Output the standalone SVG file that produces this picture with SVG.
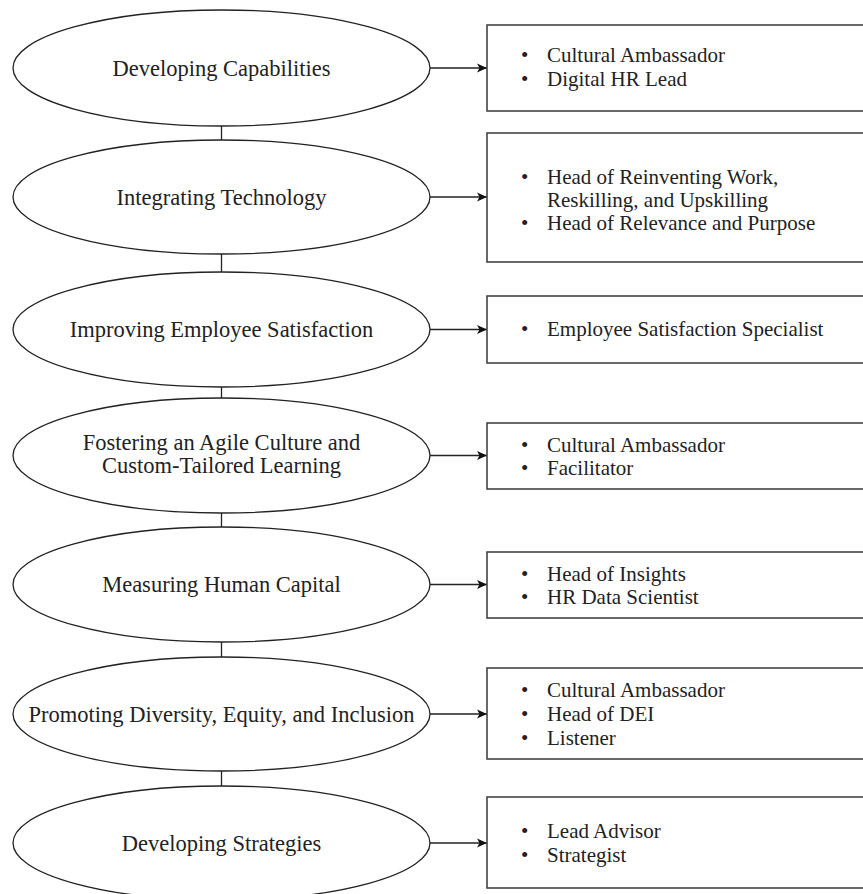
<svg xmlns="http://www.w3.org/2000/svg" width="863" height="894" viewBox="0 0 863 894">
<style>
.ell{fill:#fff;stroke:#222;stroke-width:1.3}
.box{fill:#fff;stroke:#444;stroke-width:1.6}
.et{font-family:"Liberation Serif","Times New Roman",serif;font-size:22.5px;fill:#222;text-anchor:middle}
.bt{font-family:"Liberation Serif","Times New Roman",serif;font-size:21px;fill:#222}
.ln{stroke:#222;stroke-width:1.3;fill:none}
</style>
<defs>
<marker id="ah" markerWidth="11" markerHeight="11" refX="10" refY="5.5" orient="auto" markerUnits="userSpaceOnUse">
<path d="M0,1 L10,5.5 L0,10 L2.5,5.5 Z" fill="#111"/>
</marker>
</defs>
<g id="connectors">
<line class="ln" x1="221.5" y1="126" x2="221.5" y2="140"/>
<line class="ln" x1="221.5" y1="254" x2="221.5" y2="272"/>
<line class="ln" x1="221.5" y1="387" x2="221.5" y2="398"/>
<line class="ln" x1="221.5" y1="513" x2="221.5" y2="527"/>
<line class="ln" x1="221.5" y1="642" x2="221.5" y2="657"/>
<line class="ln" x1="221.5" y1="771" x2="221.5" y2="786"/>
<line class="ln" x1="430" y1="68" x2="487" y2="68" marker-end="url(#ah)"/>
<line class="ln" x1="430" y1="197" x2="487" y2="197" marker-end="url(#ah)"/>
<line class="ln" x1="430" y1="329.5" x2="487" y2="329.5" marker-end="url(#ah)"/>
<line class="ln" x1="430" y1="455.5" x2="487" y2="455.5" marker-end="url(#ah)"/>
<line class="ln" x1="430" y1="584.5" x2="487" y2="584.5" marker-end="url(#ah)"/>
<line class="ln" x1="430" y1="714" x2="487" y2="714" marker-end="url(#ah)"/>
<line class="ln" x1="430" y1="843" x2="487" y2="843" marker-end="url(#ah)"/>
</g>
<g id="n1"><ellipse class="ell" cx="221.5" cy="68" rx="208.5" ry="58"/><text class="et" x="221.5" y="75.5">Developing Capabilities</text></g>
<g id="n2"><ellipse class="ell" cx="221.5" cy="197" rx="208.5" ry="57"/><text class="et" x="221.5" y="204.5">Integrating Technology</text></g>
<g id="n3"><ellipse class="ell" cx="221.5" cy="329.5" rx="208.5" ry="57.5"/><text class="et" x="221.5" y="337">Improving Employee Satisfaction</text></g>
<g id="n4"><ellipse class="ell" cx="221.5" cy="455.5" rx="208.5" ry="57.5"/><text class="et" x="221.5" y="449.5">Fostering an Agile Culture and</text><text class="et" x="221.5" y="472.5">Custom-Tailored Learning</text></g>
<g id="n5"><ellipse class="ell" cx="221.5" cy="584.5" rx="208.5" ry="57.5"/><text class="et" x="221.5" y="592">Measuring Human Capital</text></g>
<g id="n6"><ellipse class="ell" cx="221.5" cy="714" rx="208.5" ry="57"/><text class="et" x="221.5" y="721.5">Promoting Diversity, Equity, and Inclusion</text></g>
<g id="n7"><ellipse class="ell" cx="221.5" cy="843" rx="208.5" ry="57"/><text class="et" x="221.5" y="850.5">Developing Strategies</text></g>
<g id="b1"><rect class="box" x="487" y="25" width="390" height="86"/>
<text class="bt" x="521" y="62">•</text><text class="bt" x="547" y="62">Cultural Ambassador</text>
<text class="bt" x="521" y="86">•</text><text class="bt" x="547" y="86">Digital HR Lead</text></g>
<g id="b2"><rect class="box" x="487" y="133" width="390" height="129"/>
<text class="bt" x="521" y="184">•</text><text class="bt" x="547" y="184">Head of Reinventing Work,</text>
<text class="bt" x="547" y="207">Reskilling, and Upskilling</text>
<text class="bt" x="521" y="230">•</text><text class="bt" x="547" y="230">Head of Relevance and Purpose</text></g>
<g id="b3"><rect class="box" x="487" y="296" width="390" height="67"/>
<text class="bt" x="521" y="336">•</text><text class="bt" x="547" y="336">Employee Satisfaction Specialist</text></g>
<g id="b4"><rect class="box" x="487" y="423" width="390" height="66"/>
<text class="bt" x="521" y="452">•</text><text class="bt" x="547" y="452">Cultural Ambassador</text>
<text class="bt" x="521" y="475">•</text><text class="bt" x="547" y="475">Facilitator</text></g>
<g id="b5"><rect class="box" x="487" y="552" width="390" height="66"/>
<text class="bt" x="521" y="581">•</text><text class="bt" x="547" y="581">Head of Insights</text>
<text class="bt" x="521" y="604">•</text><text class="bt" x="547" y="604">HR Data Scientist</text></g>
<g id="b6"><rect class="box" x="487" y="668" width="390" height="91"/>
<text class="bt" x="521" y="697">•</text><text class="bt" x="547" y="697">Cultural Ambassador</text>
<text class="bt" x="521" y="721">•</text><text class="bt" x="547" y="721">Head of DEI</text>
<text class="bt" x="521" y="745">•</text><text class="bt" x="547" y="745">Listener</text></g>
<g id="b7"><rect class="box" x="487" y="797" width="390" height="91"/>
<text class="bt" x="521" y="838">•</text><text class="bt" x="547" y="838">Lead Advisor</text>
<text class="bt" x="521" y="862">•</text><text class="bt" x="547" y="862">Strategist</text></g>
</svg>
